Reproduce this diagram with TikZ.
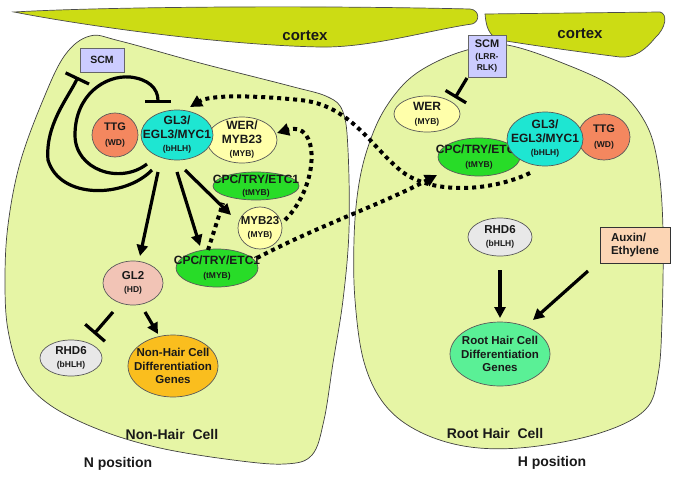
\documentclass[tikz,border=0pt]{standalone}
\usepackage{fontspec}
\setmainfont{Liberation Sans}
\usetikzlibrary{arrows.meta,shapes.geometric,calc}
\definecolor{cortexc}{RGB}{204,220,20}
\definecolor{cellc}{RGB}{230,245,165}
\definecolor{ttgc}{RGB}{244,135,95}
\definecolor{gl3c}{RGB}{30,230,210}
\definecolor{werc}{RGB}{255,255,170}
\definecolor{cpcc}{RGB}{40,220,40}
\definecolor{gl2c}{RGB}{242,196,182}
\definecolor{rhdc}{RGB}{232,232,232}
\definecolor{nhc}{RGB}{250,190,30}
\definecolor{rhc}{RGB}{90,240,150}
\definecolor{scmc}{RGB}{204,204,255}
\definecolor{auxc}{RGB}{252,213,180}
\newcommand\mainsz{\fontsize{12}{14}\selectfont\bfseries}
\newcommand\midsz{\fontsize{11.5}{13.5}\selectfont\bfseries}
\newcommand\subsz{\fontsize{8.5}{10}\selectfont\bfseries}
\begin{document}
\begin{tikzpicture}[x=1pt,y=-1pt,
  ell/.style={ellipse, draw=black!65, line width=0.7pt, inner sep=0pt},
  boxnode/.style={rectangle, draw=black!60, line width=0.8pt, inner sep=0pt},
  txt/.style={align=center, inner sep=0pt, font=\mainsz, text=black!90},
  arr/.style={line width=3.2pt, -{Triangle[length=11pt,width=11pt]}},
  inh/.style={line width=3.2pt, -{Bar[width=26pt]}},
  dotln/.style={line width=4pt, dash pattern=on 4pt off 4pt},
  dotarr/.style={dotln, -{Triangle[length=12pt,width=12pt]}},
  bigtxt/.style={inner sep=0pt, font=\fontsize{14}{16}\selectfont\bfseries, text=black!90}
]
\useasboundingbox (0,0) rectangle (674,479);
% cortex
\draw[fill=cortexc, draw=black!70, line width=0.7pt]
  (14,12) .. controls (100,7) and (300,5) .. (470,9)
  .. controls (480,10) and (480,22) .. (472,24)
  .. controls (430,30) and (370,48) .. (320,47)
  .. controls (220,45) and (80,25) .. (14,12) -- cycle;
\draw[fill=cortexc, draw=black!70, line width=0.7pt]
  (485,14) -- (660,12) .. controls (668,14) and (666,28) .. (655,38)
  .. controls (645,50) and (635,58) .. (620,57)
  .. controls (580,52) and (530,45) .. (500,40)
  .. controls (488,36) and (486,25) .. (485,14) -- cycle;
\node[inner sep=0pt, font=\fontsize{15}{18}\selectfont\bfseries, text=black!90] (cortexl) at (305,36) {cortex};
\node[inner sep=0pt, font=\fontsize{15}{18}\selectfont\bfseries, text=black!90] (cortexr) at (580,34) {cortex};
% cells
\draw[fill=cellc, draw=black!75, line width=0.7pt] plot[smooth cycle, tension=0.6] coordinates {
  (90,36) (120,41) (200,63) (290,86) (328,97) (343,112) (348,150) (349,230)
  (343,300) (333,363) (324,420) (312,455) (285,464) (233,460) (160,448)
  (100,430) (50,405) (22,375) (8,330) (5,280) (8,225) (20,163) (43,100) (65,55)};
\draw[fill=cellc, draw=black!75, line width=0.7pt] plot[smooth cycle, tension=0.6] coordinates {
  (507,45) (560,62) (615,88) (645,122) (658,165) (663,230) (662,320) (658,375)
  (645,410) (600,433) (530,447) (470,447) (420,432) (385,405) (364,362)
  (355,300) (354,240) (358,190) (367,150) (383,112) (408,80) (440,60) (475,48)};
\node[bigtxt] (nhlab) at (172,434) {Non-Hair\ \ Cell};
\node[bigtxt] (rhlab) at (495,433) {Root Hair\ \ Cell};
\node[bigtxt] (npos) at (118,464) {N position};
\node[bigtxt] (hpos) at (552,463) {H position};
% left cell nodes
\node[boxnode, fill=scmc, minimum width=44pt, minimum height=24pt] (scm) at (102,60) {};
\node[txt, font=\fontsize{10.5}{12}\selectfont\bfseries] (scmt) at (scm) {SCM};
\node[ell, fill=ttgc, minimum width=46pt, minimum height=44pt] (ttg) at (115,135) {};
\node[txt, font=\fontsize{11}{15}\selectfont\bfseries] (ttgt) at (ttg) {TTG\\{\subsz (WD)}};
\node[ell, fill=werc, minimum width=70pt, minimum height=46pt] (wer) at (242,140) {};
\node[txt] (wert) at (wer) {WER/\\MYB23\\[-1pt]{\subsz (MYB)}};
\node[ell, fill=gl3c, minimum width=72pt, minimum height=50pt] (gl3) at (177,135) {};
\node[txt] (gl3t) at (gl3) {GL3/\\EGL3/MYC1\\[-1pt]{\subsz (bHLH)}};
\node[ell, fill=cpcc, minimum width=86pt, minimum height=28pt] (cpct) at (256,186) {};
\node[txt] (cpctt) at (cpct) {CPC/TRY/ETC1\\[-2pt]{\subsz (tMYB)}};
\node[ell, fill=werc, minimum width=44pt, minimum height=42pt] (myb) at (260,228) {};
\node[txt, font=\midsz] (mybt) at (myb) {MYB23\\{\subsz (MYB)}};
\node[ell, fill=cpcc, minimum width=82pt, minimum height=38pt] (cpcb) at (217,268) {};
\node[txt] (cpcbt) at (cpcb) {CPC/TRY/ETC1\\{\subsz (tMYB)}};
\node[ell, fill=gl2c, minimum width=60pt, minimum height=44pt] (gl2) at (133,283) {};
\node[txt, font=\midsz] (gl2t) at (gl2) {GL2\\{\subsz (HD)}};
\node[ell, fill=rhdc, minimum width=62pt, minimum height=36pt] (rhdl) at (71,358) {};
\node[txt, font=\midsz] (rhdlt) at (rhdl) {RHD6\\{\subsz (bHLH)}};
\node[ell, fill=nhc, minimum width=90pt, minimum height=62pt] (nh) at (173,366) {};
\node[txt, font=\midsz] (nht) at (nh) {Non-Hair Cell\\Differentiation\\Genes};
% right cell nodes
\node[boxnode, fill=scmc, minimum width=38pt, minimum height=42pt] (scmr) at (487,56) {};
\node[txt, font=\fontsize{8.5}{11}\selectfont\bfseries] (scmrt) at (scmr) {{\fontsize{11}{13}\selectfont SCM}\\[1pt](LRR-\\RLK)};
\node[ell, fill=werc, minimum width=66pt, minimum height=36pt] (werr) at (427,114) {};
\node[txt] (werrt) at (werr) {WER\\{\subsz (MYB)}};
\node[ell, fill=ttgc, minimum width=52pt, minimum height=46pt] (ttgr) at (604,137) {};
\node[txt, font=\fontsize{11}{15}\selectfont\bfseries] (ttgrt) at (ttgr) {TTG\\{\subsz (WD)}};
\node[ell, fill=cpcc, minimum width=82pt, minimum height=38pt] (cpcr) at (479,157) {};
\node[txt] (cpcrt) at (cpcr) {CPC/TRY/ETC1\\{\subsz (tMYB)}};
\node[ell, fill=gl3c, minimum width=76pt, minimum height=54pt] (gl3r) at (545,139) {};
\node[txt] (gl3rt) at (gl3r) {GL3/\\EGL3/MYC1\\[-1pt]{\subsz (bHLH)}};
\node[ell, fill=rhdc, minimum width=64pt, minimum height=38pt] (rhdr) at (500,237) {};
\node[txt, font=\midsz] (rhdrt) at (rhdr) {RHD6\\{\subsz (bHLH)}};
\node[boxnode, fill=auxc, draw=black!80, minimum width=70pt, minimum height=36pt] (aux) at (635,245) {};
\node[txt, font=\midsz, align=left] (auxt) at (aux) {Auxin/\\Ethylene};
\node[ell, fill=rhc, minimum width=100pt, minimum height=64pt] (rh) at (500,354) {};
\node[txt, font=\midsz] (rht) at (rh) {Root Hair Cell\\Differentiation\\Genes};
% left cell connectors
\draw[inh] ($(gl3)+(-25,35)$) .. controls (125,198) and (60,200) .. (48,160)
  .. controls (45,125) and (68,98) .. ($(scm)+(-24,17)$);
\draw[inh] ($(gl3)+(-30,29)$) .. controls (120,185) and (75,170) .. (75,135)
  .. controls (75,95) and (105,75) .. (130,77)
  .. controls (148,79) and (158,88) .. ($(gl3)+(-19,-32)$);
\draw[arr] ($(gl3)+(-19,37)$) -- ($(gl2)+(7,-27)$);
\draw[arr] ($(gl3)+(0,37)$) -- ($(cpcb)+(-17,-22)$);
\draw[arr] ($(gl3)+(8,35)$) -- ($(myb)+(-29,-13)$);
\draw[inh] ($(gl2)+(-20,29)$) -- ($(rhdl)+(23,-24)$);
\draw[arr] ($(gl2)+(12,29)$) -- ($(nh)+(-15,-32)$);
\draw[dotln] ($(cpcb)+(-9,-18)$) -- ($(cpct)+(-33,17)$);
\draw[dotarr] ($(myb)+(25,-8)$) .. controls (320,185) and (320,120) .. ($(wer)+(35,-7)$);
\draw[dotarr] ($(gl3r)+(-15,34)$) .. controls (490,192) and (430,195) .. (400,170)
  .. controls (370,145) and (350,105) .. (300,100)
  .. controls (250,95) and (210,95) .. ($(gl3)+(13,-28)$);
\draw[dotarr] ($(cpcb)+(40,-10)$) .. controls (320,225) and (380,205) .. ($(cpcr)+(-42,18)$);
% right cell connectors
\draw[line width=3.2pt, -{Bar[width=24pt]}] ($(scmr)+(-20,22)$) -- ($(werr)+(28,-16)$);
\draw[arr] ($(rhdr)+(0,33)$) -- ($(rh)+(0,-36)$);
\draw[arr] ($(aux)+(-47,26)$) -- ($(rh)+(33,-34)$);
\end{tikzpicture}
\end{document}
